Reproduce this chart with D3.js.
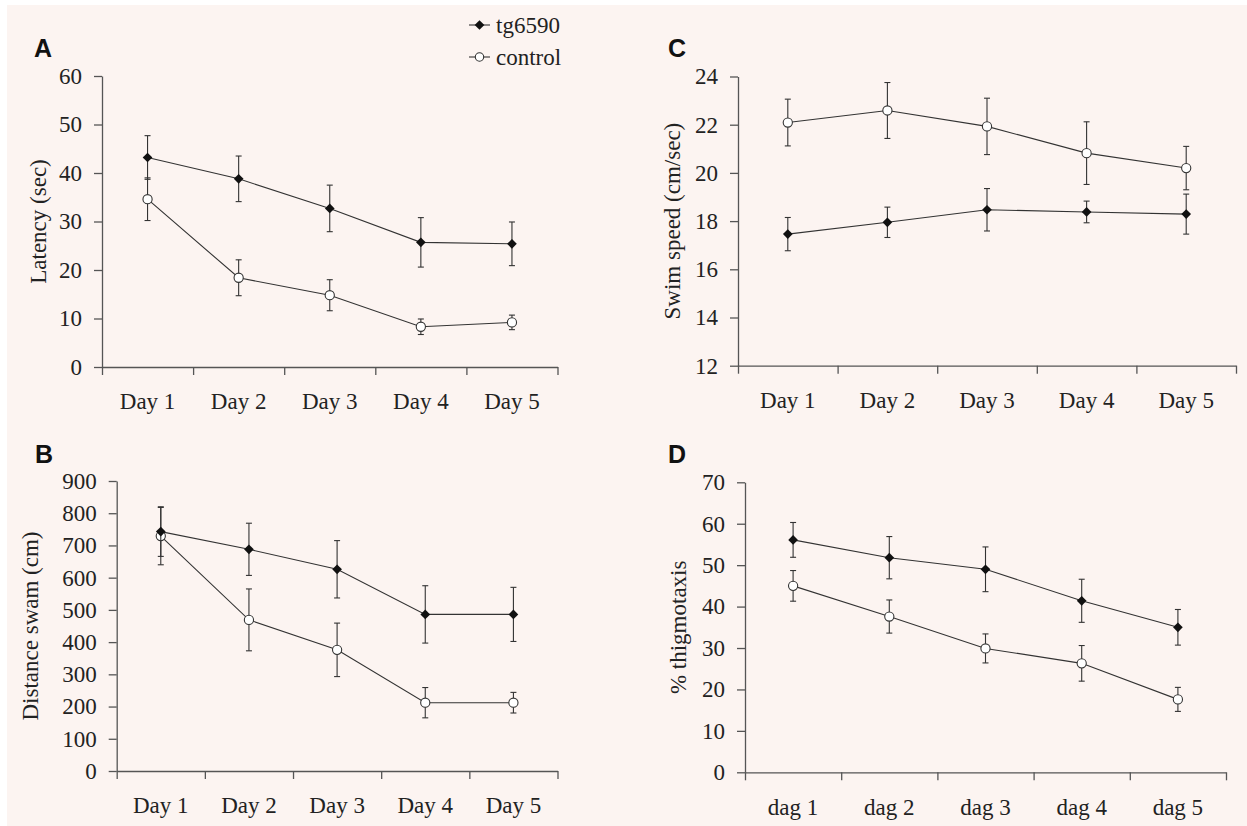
<!DOCTYPE html>
<html>
<head>
<meta charset="utf-8">
<script src="https://cdn.jsdelivr.net/npm/d3@7"></script>
<style>
  body { margin: 0; background: #fff; }
  svg { display: block; }
</style>
</head>
<body>
<div id="chart"></div>
<script>
// categories
const days = ['Day 1', 'Day 2', 'Day 3', 'Day 4', 'Day 5']
const dags = ['dag 1', 'dag 2', 'dag 3', 'dag 4', 'dag 5']

// A - latency (sec)
const latencyTg = [43.2, 38.8, 32.7, 25.7, 25.4]
const latencyTgErr = [4.5, 4.7, 4.8, 5.1, 4.5]
const latencyCtl = [34.6, 18.4, 14.8, 8.3, 9.2]
const latencyCtlErr = [4.4, 3.7, 3.2, 1.6, 1.5]

// B - distance swam (cm)
const distTg = [743, 688, 626, 486, 486]
const distTgErr = [77, 81, 89, 89, 84]
const distCtl = [729, 469, 376, 212, 212]
const distCtlErr = [89, 96, 83, 47, 32]

// C - swim speed (cm/sec)
const speedTg = [17.46, 17.95, 18.47, 18.38, 18.29]
const speedTgErr = [0.69, 0.63, 0.88, 0.45, 0.83]
const speedCtl = [22.09, 22.59, 21.93, 20.82, 20.2]
const speedCtlErr = [0.97, 1.16, 1.17, 1.3, 0.9]

// D - % thigmotaxis
const thigTg = [56.1, 51.8, 49.0, 41.4, 35.0]
const thigTgErr = [4.2, 5.1, 5.4, 5.2, 4.3]
const thigCtl = [45.0, 37.6, 29.9, 26.3, 17.6]
const thigCtlErr = [3.7, 4.0, 3.5, 4.3, 2.9]

// y tick labels
const latencyTicks = [0, 10, 20, 30, 40, 50, 60]
const distTicks = [0, 100, 200, 300, 400, 500, 600, 700, 800, 900]
const speedTicks = [12, 14, 16, 18, 20, 22, 24]
const thigTicks = [0, 10, 20, 30, 40, 50, 60, 70]

const legendNames = ['tg6590', 'control']

const W = 1247, H = 826
const ink = '#222', axisCol = '#555', lineCol = '#333'
const FS = 23
const SERIF = '"Liberation Serif", Tinos, "Times New Roman", "DejaVu Serif", serif'

const svg = d3.select('#chart').append('svg').attr('width', W).attr('height', H)
svg.append('rect').attr('x', 7).attr('y', 5).attr('width', W - 7).attr('height', H - 5).attr('fill', '#fcf4f1')

// panel layout (pixels)
const panels = [
  { letter: 'A', cats: days, ticks: latencyTicks, title: 'Latency (sec)',
    tg: latencyTg, tgErr: latencyTgErr, ctl: latencyCtl, ctlErr: latencyCtlErr,
    x0: 102, x1: 557.5, y0: 367, y1: 76, titleX: 38, letterX: 34, letterY: 57 },
  { letter: 'B', cats: days, ticks: distTicks, title: 'Distance swam (cm)',
    tg: distTg, tgErr: distTgErr, ctl: distCtl, ctlErr: distCtlErr,
    x0: 116.7, x1: 557.5, y0: 771, y1: 481, titleX: 30, letterX: 35, letterY: 463 },
  { letter: 'C', cats: days, ticks: speedTicks, title: 'Swim speed (cm/sec)',
    tg: speedTg, tgErr: speedTgErr, ctl: speedCtl, ctlErr: speedCtlErr,
    x0: 738, x1: 1236, y0: 365.7, y1: 76.5, titleX: 672, letterX: 668, letterY: 57 },
  { letter: 'D', cats: dags, ticks: thigTicks, title: '% thigmotaxis',
    tg: thigTg, tgErr: thigTgErr, ctl: thigCtl, ctlErr: thigCtlErr,
    x0: 745, x1: 1226, y0: 772.3, y1: 482.3, titleX: 678, letterX: 668, letterY: 463 }
]

const diamond = d3.symbol().type(d3.symbolDiamond2).size(60)

function drawSeries(g, x, y, cats, vals, errs, filled) {
  const pts = cats.map((c, i) => ({ c, v: vals[i], e: errs[i] }))
  const cx = d => x(d.c) + x.bandwidth() / 2
  // error bars
  const eb = g.append('g').attr('stroke', lineCol).attr('stroke-width', 1.1)
  eb.selectAll('line.v').data(pts).join('line')
    .attr('x1', cx).attr('x2', cx)
    .attr('y1', d => y(d.v + d.e)).attr('y2', d => y(d.v - d.e))
  eb.selectAll('line.t').data(pts).join('line')
    .attr('x1', d => cx(d) - 3).attr('x2', d => cx(d) + 3)
    .attr('y1', d => y(d.v + d.e)).attr('y2', d => y(d.v + d.e))
  eb.selectAll('line.b').data(pts).join('line')
    .attr('x1', d => cx(d) - 3).attr('x2', d => cx(d) + 3)
    .attr('y1', d => y(d.v - d.e)).attr('y2', d => y(d.v - d.e))
  // connecting line
  g.append('path').datum(pts)
    .attr('fill', 'none').attr('stroke', lineCol).attr('stroke-width', 1.1)
    .attr('d', d3.line().x(cx).y(d => y(d.v)))
  // markers
  if (filled) {
    g.append('g').selectAll('path').data(pts).join('path')
      .attr('transform', d => `translate(${cx(d)},${y(d.v)})`)
      .attr('d', diamond).attr('fill', '#111')
  } else {
    g.append('g').selectAll('circle').data(pts).join('circle')
      .attr('cx', cx).attr('cy', d => y(d.v)).attr('r', 4.6)
      .attr('fill', '#fff').attr('stroke', lineCol).attr('stroke-width', 1.1)
  }
}

panels.forEach(p => {
  const g = svg.append('g')
  const x = d3.scaleBand().domain(p.cats).range([p.x0, p.x1]).padding(0)
  const y = d3.scaleLinear().domain([p.ticks[0], p.ticks[p.ticks.length - 1]]).range([p.y0, p.y1])
  const xi = d3.scaleLinear().domain([0, p.cats.length]).range([p.x0, p.x1])

  // x axis: line + boundary ticks
  const xa = g.append('g').attr('transform', `translate(0,${p.y0})`)
    .call(d3.axisBottom(xi).tickValues(d3.range(p.cats.length + 1)).tickSize(8).tickSizeOuter(0).tickFormat(''))
  xa.select('.domain').attr('stroke', axisCol).attr('stroke-width', 1.3)
  xa.selectAll('.tick line').attr('stroke', axisCol).attr('stroke-width', 1.3)

  // x category labels
  const xl = g.append('g').attr('transform', `translate(0,${p.y0})`)
    .call(d3.axisBottom(x).tickSize(0).tickPadding(26))
  xl.select('.domain').remove()
  xl.attr('font-family', null).attr('font-size', null)
  xl.selectAll('text').style('font-family', SERIF).style('font-size', FS + 'px').attr('fill', ink)

  // y axis
  const ya = g.append('g').attr('transform', `translate(${p.x0},0)`)
    .call(d3.axisLeft(y).tickValues(p.ticks).tickSize(8).tickSizeOuter(0).tickPadding(12))
  ya.attr('font-family', null).attr('font-size', null)
  ya.select('.domain').attr('stroke', axisCol).attr('stroke-width', 1.3)
  ya.selectAll('.tick line').attr('stroke', axisCol).attr('stroke-width', 1.3)
  ya.selectAll('text').style('font-family', SERIF).style('font-size', FS + 'px').attr('fill', ink)

  // y title
  g.append('text')
    .attr('transform', `translate(${p.titleX},${(p.y0 + p.y1) / 2}) rotate(-90)`)
    .attr('text-anchor', 'middle').attr('dominant-baseline', 'central')
    .style('font-family', SERIF).style('font-size', FS + 'px').attr('fill', ink)
    .text(p.title)

  // panel letter
  g.append('text').attr('x', p.letterX).attr('y', p.letterY)
    .style('font-family', '"Liberation Sans", Arial, sans-serif').attr('font-weight', 'bold')
    .style('font-size', '25px').attr('fill', '#111').text(p.letter)

  drawSeries(g, x, y, p.cats, p.ctl, p.ctlErr, false)
  drawSeries(g, x, y, p.cats, p.tg, p.tgErr, true)
})

// legend
const leg = svg.append('g')
legendNames.forEach((name, i) => {
  const ly = 25 + i * 32
  leg.append('line').attr('x1', 469).attr('x2', 490).attr('y1', ly).attr('y2', ly)
    .attr('stroke', lineCol).attr('stroke-width', 1.1)
  if (i === 0) {
    leg.append('path').attr('transform', `translate(479.5,${ly})`).attr('d', diamond).attr('fill', '#111')
  } else {
    leg.append('circle').attr('cx', 479.5).attr('cy', ly).attr('r', 4.2)
      .attr('fill', '#fff').attr('stroke', lineCol).attr('stroke-width', 1.1)
  }
  leg.append('text').attr('x', 496).attr('y', ly)
    .attr('dominant-baseline', 'central')
    .style('font-family', SERIF).style('font-size', FS + 'px').attr('fill', ink)
    .text(name)
})
</script>
</body>
</html>
